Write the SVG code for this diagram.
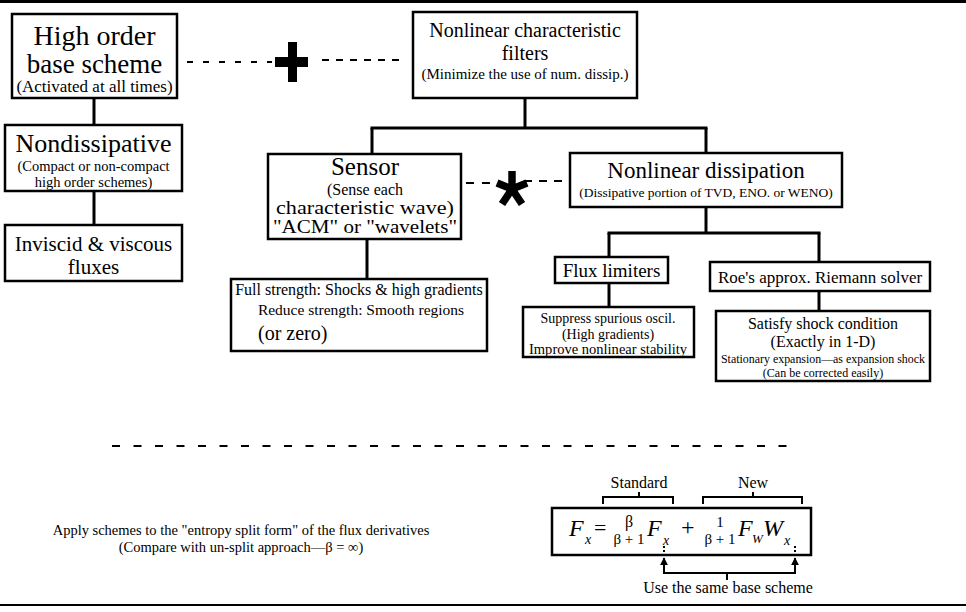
<svg xmlns="http://www.w3.org/2000/svg" width="966" height="612" viewBox="0 0 966 612">
<style>
.box{fill:#fff;stroke:#000;stroke-width:2.5}
.con{stroke:#000;stroke-width:3;fill:none}
.dash{stroke:#000;stroke-width:2;fill:none}
.t{font-family:"Liberation Serif","Times New Roman",serif;fill:#000;text-anchor:middle}
.i{font-style:italic}
.l{text-anchor:start}
</style>
<defs>
<marker id="ah" viewBox="0 0 10 10" refX="9" refY="5" markerWidth="4" markerHeight="4" orient="auto" markerUnits="strokeWidth">
<path d="M0,0 L10,5 L0,10 z" fill="#000"/>
</marker>
</defs>
<rect x="0" y="0" width="966" height="3" fill="#000"/>
<rect x="0" y="604" width="966" height="2" fill="#000"/>

<g id="connectors">
<line class="con" x1="94" y1="98" x2="94" y2="125"/>
<line class="con" x1="94" y1="191" x2="94" y2="225"/>
<line class="con" x1="525" y1="98" x2="525" y2="128"/>
<line class="con" x1="370.5" y1="128" x2="707.5" y2="128"/>
<line class="con" x1="372" y1="128" x2="372" y2="154"/>
<line class="con" x1="706" y1="128" x2="706" y2="153"/>
<line class="con" x1="706" y1="207" x2="706" y2="233"/>
<line class="con" x1="607.5" y1="233" x2="820.5" y2="233"/>
<line class="con" x1="609" y1="233" x2="609" y2="257"/>
<line class="con" x1="819" y1="233" x2="819" y2="262"/>
<line class="con" x1="609" y1="283" x2="609" y2="307"/>
<line class="con" x1="819" y1="291" x2="819" y2="311"/>
<line class="con" x1="367" y1="239" x2="367" y2="279"/>
<line class="dash" x1="187" y1="62" x2="272" y2="62" stroke-dasharray="6 10"/>
<line class="dash" x1="322" y1="60" x2="403" y2="60" stroke-dasharray="7 7"/>
<line class="dash" x1="466" y1="183" x2="498" y2="183" stroke-dasharray="8 8"/>
<line class="dash" x1="524" y1="181" x2="568" y2="181" stroke-dasharray="8 7"/>
<line class="dash" x1="112" y1="446" x2="798" y2="446" stroke-dasharray="8 13.5"/>
</g>

<g id="plus">
<rect x="275" y="57" width="33" height="10" fill="#000"/>
<rect x="288" y="42" width="9" height="40" fill="#000"/>
</g>
<g id="asterisk" stroke="#000" stroke-width="7.5" stroke-linecap="butt">
<line x1="512" y1="189" x2="512" y2="171"/>
<line x1="512" y1="189" x2="527" y2="183"/>
<line x1="512" y1="189" x2="497" y2="183"/>
<line x1="512" y1="189" x2="522" y2="204"/>
<line x1="512" y1="189" x2="502" y2="204"/>
</g>

<g id="base">
<rect class="box" x="12" y="14" width="165" height="84"/>
<text class="t" x="94.5" y="45" font-size="28">High order</text>
<text class="t" x="94.5" y="73" font-size="27">base scheme</text>
<text class="t" x="94.5" y="92" font-size="17">(Activated at all times)</text>
</g>

<g id="filters">
<rect class="box" x="413" y="12" width="224" height="86"/>
<text class="t" x="525" y="37" font-size="20">Nonlinear characteristic</text>
<text class="t" x="525" y="60" font-size="20">filters</text>
<text class="t" x="525" y="79" font-size="15">(Minimize the use of num. dissip.)</text>
</g>

<g id="nondissipative">
<rect class="box" x="5" y="125" width="177" height="66"/>
<text class="t" x="93.5" y="152" font-size="26">Nondissipative</text>
<text class="t" x="93.5" y="171" font-size="14.5">(Compact or non-compact</text>
<text class="t" x="93.5" y="187" font-size="14.5">high order schemes)</text>
</g>

<g id="fluxes">
<rect class="box" x="5" y="225" width="177" height="56"/>
<text class="t" x="93.5" y="251" font-size="21">Inviscid &amp; viscous</text>
<text class="t" x="93.5" y="274" font-size="21">fluxes</text>
</g>

<g id="sensor">
<rect class="box" x="268" y="154" width="193" height="85"/>
<text class="t" x="365" y="175" font-size="25">Sensor</text>
<text class="t" x="365" y="194.5" font-size="16">(Sense each</text>
<text class="t" x="365" y="214" font-size="18.5" textLength="178" lengthAdjust="spacingAndGlyphs">characteristic wave)</text>
<text class="t" x="365" y="233" font-size="18.5" textLength="184" lengthAdjust="spacingAndGlyphs">"ACM" or "wavelets"</text>
</g>

<g id="dissipation">
<rect class="box" x="570" y="153" width="272" height="54"/>
<text class="t" x="706" y="178" font-size="23">Nonlinear dissipation</text>
<text class="t" x="706" y="197" font-size="13.5">(Dissipative portion of TVD, ENO. or WENO)</text>
</g>

<g id="sensor-effect">
<rect class="box" x="231" y="279" width="256" height="72"/>
<text class="t" x="359" y="295" font-size="16">Full strength: Shocks &amp; high gradients</text>
<text class="t" x="361" y="315" font-size="15.5">Reduce strength: Smooth regions</text>
<text class="t l" x="258" y="340" font-size="20">(or zero)</text>
</g>

<g id="flux-limiters">
<rect class="box" x="555" y="257" width="113" height="26"/>
<text class="t" x="611.5" y="277" font-size="19">Flux limiters</text>
</g>

<g id="flux-effect">
<rect class="box" x="523" y="307" width="171" height="50"/>
<text class="t" x="608" y="323" font-size="14">Suppress spurious oscil.</text>
<text class="t" x="608" y="338.5" font-size="14">(High gradients)</text>
<text class="t" x="608" y="354" font-size="14" textLength="158" lengthAdjust="spacingAndGlyphs">Improve nonlinear stability</text>
</g>

<g id="roe">
<rect class="box" x="710" y="262" width="220" height="29"/>
<text class="t" x="820" y="283" font-size="17">Roe's approx. Riemann solver</text>
</g>

<g id="roe-effect">
<rect class="box" x="716" y="311" width="214" height="70"/>
<text class="t" x="823" y="329" font-size="16">Satisfy shock condition</text>
<text class="t" x="823" y="347" font-size="16">(Exactly in 1-D)</text>
<text class="t" x="823" y="363" font-size="12" textLength="204" lengthAdjust="spacingAndGlyphs">Stationary expansion—as expansion shock</text>
<text class="t" x="823" y="377" font-size="12">(Can be corrected easily)</text>
</g>

<g id="entropy-text">
<text class="t" x="241" y="535" font-size="14.5">Apply schemes to the "entropy split form" of the flux derivatives</text>
<text class="t" x="241" y="552" font-size="14.5">(Compare with un-split approach—β = ∞)</text>
</g>

<g id="formula">
<path class="dash" d="M603,504 V497 H673 V504 M639,497 V492" stroke-width="2"/>
<path class="dash" d="M703,504 V497 H802 V504 M753,497 V492" stroke-width="2"/>
<text class="t" x="639" y="488" font-size="16">Standard</text>
<text class="t" x="753" y="488" font-size="16">New</text>
<rect class="box" x="552" y="508" width="259" height="47" stroke-width="3"/>
<text class="t i l" x="569" y="536" font-size="24">F</text>
<text class="t i l" x="585" y="544" font-size="14">x</text>
<text class="t l" x="594" y="535" font-size="22">=</text>
<text class="t" x="629" y="527" font-size="16">β</text>
<text class="t" x="629" y="544" font-size="15">β + 1</text>
<text class="t i l" x="647" y="536" font-size="24">F</text>
<text class="t i l" x="663" y="545" font-size="14">x</text>
<text class="t l" x="681" y="535" font-size="24">+</text>
<text class="t" x="720" y="527" font-size="15">1</text>
<text class="t" x="720" y="544" font-size="15">β + 1</text>
<text class="t i l" x="738" y="536" font-size="24">F</text>
<text class="t i l" x="752" y="543" font-size="13">W</text>
<text class="t i l" x="763" y="536" font-size="24">W</text>
<text class="t i l" x="784" y="545" font-size="14">x</text>
<line class="dash" x1="664" y1="546" x2="664" y2="556" stroke-width="1.5" stroke-dasharray="2 2"/>
<line class="dash" x1="795" y1="546" x2="795" y2="556" stroke-width="1.5" stroke-dasharray="2 2"/>
<line class="dash" x1="664" y1="573" x2="664" y2="558" stroke-width="2" marker-end="url(#ah)"/>
<line class="dash" x1="795" y1="573" x2="795" y2="558" stroke-width="2" marker-end="url(#ah)"/>
<path class="dash" d="M663,573 H796 M727,573 V580" stroke-width="2"/>
<text class="t" x="728" y="593" font-size="16">Use the same base scheme</text>
</g>
</svg>
